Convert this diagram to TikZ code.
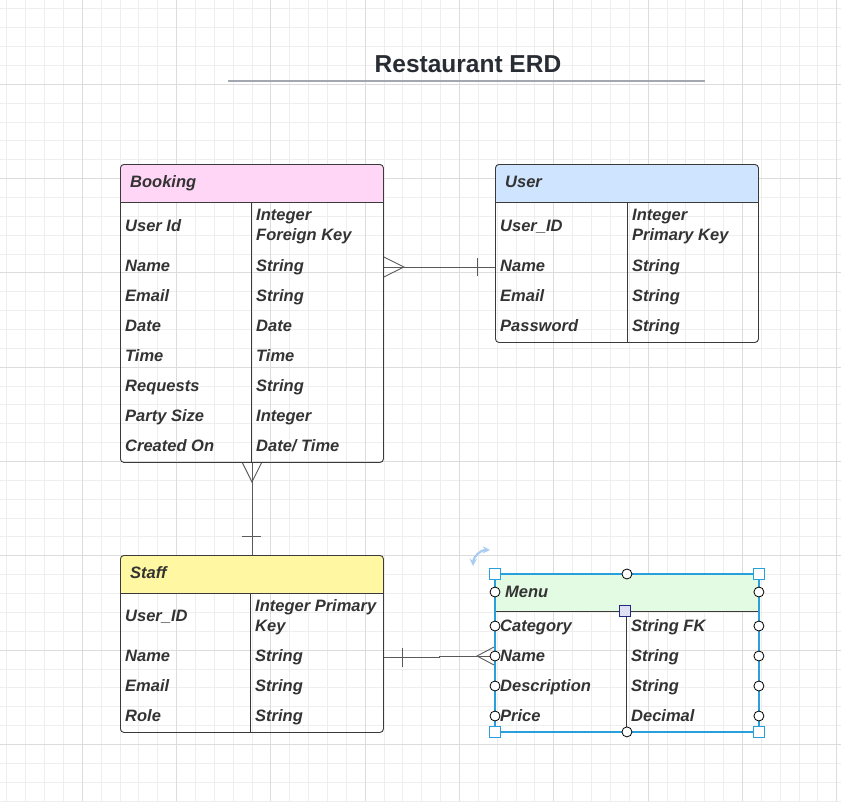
\documentclass[tikz,border=0pt]{standalone}
\usepackage{fontspec}
\setmainfont{Liberation Sans}
\usetikzlibrary{arrows, positioning}
\definecolor{gridminor}{HTML}{EEEEEE}
\definecolor{gridmajor}{HTML}{DCDCDC}
\definecolor{boxgray}{HTML}{3A3A3A}
\definecolor{relgray}{HTML}{5A5A5A}
\definecolor{textgray}{HTML}{333333}
\definecolor{titlegray}{HTML}{282C33}
\definecolor{rulegray}{HTML}{A3A7B0}
\definecolor{bookingpink}{HTML}{FFD6F5}
\definecolor{userblue}{HTML}{CFE4FF}
\definecolor{staffyellow}{HTML}{FFF7A1}
\definecolor{menugreen}{HTML}{E3FAE3}
\definecolor{selblue}{HTML}{29A0DC}
\definecolor{divnavy}{HTML}{1F2A80}
\definecolor{divfill}{HTML}{E0E0F4}
\definecolor{rotblue}{HTML}{A9CDF2}
\tikzset{
	entity/.style={draw=boxgray, line width=0.9pt, rounded corners=3.5pt, minimum width=263pt, anchor=north west, inner sep=0pt},
	header/.style 2 args={path picture={
		\fill[#1] (path picture bounding box.north west) rectangle ([yshift=-#2]path picture bounding box.north east);
		\draw[boxgray, line width=0.9pt] ([yshift=-#2]path picture bounding box.north west) -- ([yshift=-#2]path picture bounding box.north east);}},
	divider/.style={draw=boxgray, line width=0.9pt},
	cell/.style={anchor=base west, inner sep=0pt, text=textgray, font=\bfseries\itshape\fontsize{16.5}{20}\selectfont},
	twoline/.style={cell, anchor=west, align=left},
	rel/.style={draw=relgray, line width=0.9pt},
	sizehandle/.style={rectangle, draw=selblue, fill=white, line width=1pt, minimum size=10.5pt, inner sep=0pt},
	pointhandle/.style={circle, draw=black, fill=white, line width=0.8pt, minimum size=10pt, inner sep=0pt},
	divhandle/.style={rectangle, draw=divnavy, fill=divfill, line width=1pt, minimum size=11pt, inner sep=0pt}
}
\begin{document}
\begin{tikzpicture}[x=1pt, y=-1pt]
	\useasboundingbox (0,0) rectangle (841,801);
	
	% grid
	\foreach \i in {0,...,44}
		\draw[gridminor, line width=1pt] ({6.9+18.86*\i},0) -- ({6.9+18.86*\i},801);
	\foreach \i in {0,...,42}
		\draw[gridminor, line width=1pt] (0,{8.9+18.86*\i}) -- (841,{8.9+18.86*\i});
	\foreach \i in {0,...,8}
		\draw[gridmajor, line width=1pt] ({82.3+94.3*\i},0) -- ({82.3+94.3*\i},801);
	\foreach \i in {0,...,7}
		\draw[gridmajor, line width=1pt] (0,{84.3+94.3*\i}) -- (841,{84.3+94.3*\i});
	
	% title
	\node[anchor=base, inner sep=0pt, text=titlegray, font=\bfseries\fontsize{24.5}{28}\selectfont] (title) at (468,72) {Restaurant ERD};
	\draw[rulegray, line width=1.6pt] (228,81) -- (705,81);
	
	% Booking
	\node[entity, minimum height=298pt, header={bookingpink}{38pt}] (booking) at (120,164) {};
	\draw[divider] ([xshift=131pt, yshift=-38pt]booking.north west) -- ([xshift=131pt]booking.south west);
	\node[cell] (booking-title) at (130,187) {Booking};
	\node[cell] (booking-attr-0) at (125,231) {User Id};
	\node[twoline] (booking-type-0) at (256,227) {Integer\\Foreign Key};
	\foreach \attr/\kind [count=\i] in {Name/String, Email/String, Date/Date, Time/Time, Requests/String, {Party Size}/Integer, {Created On}/{Date/ Time}} {
		\node[cell] (booking-attr-\i) at (125,{241+30*\i}) {\attr};
		\node[cell] (booking-type-\i) at (256,{241+30*\i}) {\kind};
	}
	
	% User
	\node[entity, minimum height=178pt, header={userblue}{38pt}] (user) at (495,164) {};
	\draw[divider] ([xshift=132pt, yshift=-38pt]user.north west) -- ([xshift=132pt]user.south west);
	\node[cell] (user-title) at (505,187) {User};
	\node[cell] (user-attr-0) at (500,231) {User\_ID};
	\node[twoline] (user-type-0) at (632,227) {Integer\\Primary Key};
	\foreach \attr/\kind [count=\i] in {Name/String, Email/String, Password/String} {
		\node[cell] (user-attr-\i) at (500,{241+30*\i}) {\attr};
		\node[cell] (user-type-\i) at (632,{241+30*\i}) {\kind};
	}
	
	% Staff
	\node[entity, minimum height=177pt, header={staffyellow}{38pt}] (staff) at (120,555) {};
	\draw[divider] ([xshift=130pt, yshift=-38pt]staff.north west) -- ([xshift=130pt]staff.south west);
	\node[cell] (staff-title) at (130,578) {Staff};
	\node[cell] (staff-attr-0) at (125,621) {User\_ID};
	\node[twoline] (staff-type-0) at (255,617) {Integer Primary\\Key};
	\foreach \attr/\kind [count=\i] in {Name/String, Email/String, Role/String} {
		\node[cell] (staff-attr-\i) at (125,{631+30*\i}) {\attr};
		\node[cell] (staff-type-\i) at (255,{631+30*\i}) {\kind};
	}
	
	% Menu
	\node[entity, minimum height=157pt, header={menugreen}{37pt}] (menu) at (495,574) {};
	\draw[divider] ([xshift=131pt, yshift=-37pt]menu.north west) -- ([xshift=131pt]menu.south west);
	\node[cell] (menu-title) at (505,597) {Menu};
	\foreach \attr/\kind [count=\i] in {Category/{String FK}, Name/String, Description/String, Price/Decimal} {
		\node[cell] (menu-attr-\i) at (500,{601+30*\i}) {\attr};
		\node[cell] (menu-type-\i) at (631,{601+30*\i}) {\kind};
	}
	
	% relationships
	\coordinate (bu-booking) at ([yshift=-103pt]booking.north east);
	\coordinate (bu-user) at ([yshift=-103pt]user.north west);
	\draw[rel] (bu-booking) -- (bu-user);
	\draw[rel] (bu-booking) ++(0,-10) -- ++(20,10) -- ++(-20,10);
	\draw[rel] (bu-user) ++(-18,-9) -- ++(0,18);
	
	\draw[rel] (booking.south) -- (staff.north);
	\draw[rel] (booking.south) ++(-9.5,0) -- ++(9.5,19) -- ++(9.5,-19);
	\draw[rel] (staff.north) ++(-9.5,-19) -- ++(19,0);
	
	\coordinate (sm-staff) at ([yshift=-102pt]staff.north east);
	\coordinate (sm-menu) at ([yshift=-82pt]menu.north west);
	\draw[rel] (sm-staff) -- ++(56,0) |- (sm-menu);
	\draw[rel] (sm-staff) ++(19,-9.5) -- ++(0,19);
	\draw[rel] (sm-menu) ++(0,-9.5) -- ++(-18,9.5) -- ++(18,9.5);
	
	% selection of Menu
	\draw[selblue, line width=1.3pt] (menu.north west) rectangle (menu.south east);
	\foreach \a/\t in {north west/nw, north east/ne, south west/sw, south east/se}
		\node[sizehandle] (menu-size-\t) at (menu.\a) {};
	\node[pointhandle] (menu-point-n) at (menu.north) {};
	\node[pointhandle] (menu-point-s) at (menu.south) {};
	\foreach \d [count=\i] in {18,52,82,112,142} {
		\node[pointhandle] (menu-point-w\i) at ([yshift=-\d pt]menu.north west) {};
		\node[pointhandle] (menu-point-e\i) at ([yshift=-\d pt]menu.north east) {};
	}
	\node[divhandle] (menu-div) at ([xshift=-1.5pt, yshift=-37pt]menu.north) {};
	\draw[rotblue, line width=2.2pt, stealth-stealth] ([xshift=-22pt, yshift=8pt]menu.north west) to[bend left=45] ([xshift=-5pt, yshift=24pt]menu.north west);
\end{tikzpicture}
\end{document}
